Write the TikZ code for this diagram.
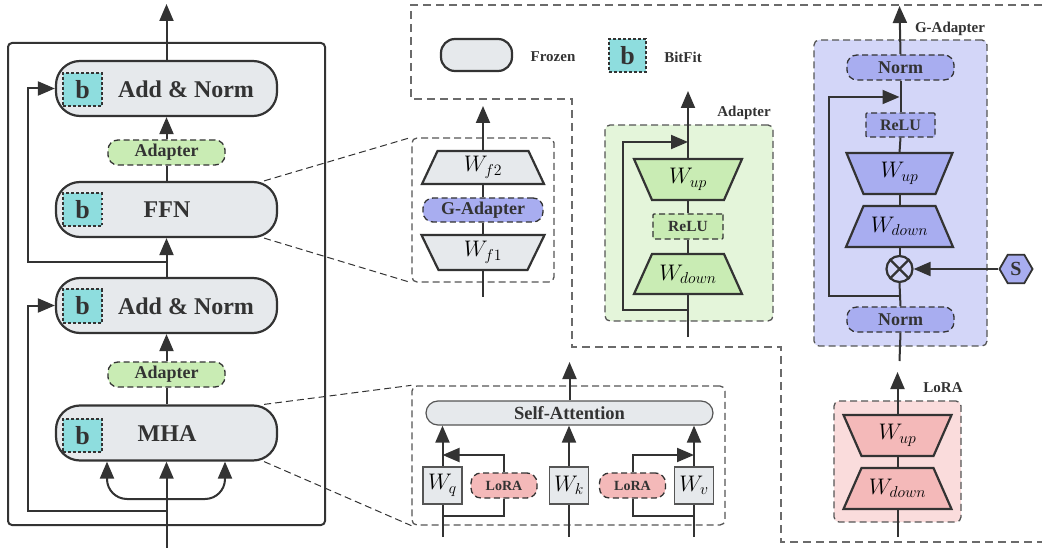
\RequirePackage{fix-cm}
\documentclass[tikz,border=0pt]{standalone}
\usepackage{fontspec}
\setmainfont{Liberation Serif}
\usetikzlibrary{arrows.meta,shapes.geometric,calc}

\definecolor{dk}{HTML}{333333}
\definecolor{dkg}{HTML}{555555}
\definecolor{olg}{HTML}{6B6B6B}
\definecolor{frz}{HTML}{E6E9EC}
\definecolor{cyb}{HTML}{8EDDDE}
\definecolor{grn}{HTML}{C9ECB4}
\definecolor{grnbg}{HTML}{E4F5DA}
\definecolor{lav}{HTML}{A8ADF0}
\definecolor{lavbg}{HTML}{D3D6F8}
\definecolor{pnk}{HTML}{F4B9B9}
\definecolor{pnkbg}{HTML}{FADCDC}

\newcommand{\tsize}[1]{\fontsize{#1}{#1}\selectfont}

% weight matrix drawn as a trapezoid: name, cx, cy, top half width,
% bottom half width, half height, fill, label
\newcommand{\wtrap}[8]{%
  \draw[trapln, fill=#7] (#2-#4,#3-#6) -- (#2+#4,#3-#6) -- (#2+#5,#3+#6) -- (#2-#5,#3+#6) -- cycle;
  \node[wlbl, minimum height=#6*2pt] (#1) at (#2,#3) {#8};}

\begin{document}
\begin{tikzpicture}[x=1pt,y=-1pt,
  ln/.style={draw=dk, line width=2pt},
  arr/.style={draw=dk, line width=2pt, -{Triangle[length=17pt,width=14pt]}},
  trapln/.style={draw=dk, line width=2.2pt, line join=miter},
  wlbl/.style={inner sep=0pt, text=black, font=\tsize{22.5}},
  pill/.style={draw=dk, line width=2.2pt, fill=frz, rounded corners=24pt,
    minimum width=221pt, minimum height=55pt, inner sep=0pt},
  bigtxt/.style={inner sep=0pt, text=dk, font=\bfseries\tsize{24}},
  bbox/.style={draw=dk, line width=2pt, dash pattern=on 2.6pt off 2.4pt, fill=cyb,
    minimum width=39pt, minimum height=33pt, inner sep=0pt, text=dk, font=\bfseries\tsize{26}},
  dpill/.style={draw=dk, line width=1.3pt, dash pattern=on 6pt off 3.5pt, rounded corners=10pt,
    inner sep=0pt, text=dk, font=\bfseries\tsize{18}},
  dbox/.style={draw=dk, line width=1.3pt, dash pattern=on 6pt off 3.5pt, rounded corners=1pt,
    inner sep=0pt, text=dk, font=\bfseries\tsize{15.5}},
  cbox/.style={draw=dkg, line width=1.3pt, dash pattern=on 7pt off 4pt, rounded corners=5pt, inner sep=0pt},
  zl/.style={draw=dk, line width=1pt, dash pattern=on 7pt off 4pt},
  outl/.style={draw=olg, line width=1.6pt, dash pattern=on 8pt off 5pt},
  lbl/.style={inner sep=0pt, text=dk, font=\bfseries\tsize{15}},
  wsq/.style={draw=dkg, line width=1.5pt, fill=frz, minimum width=39pt, minimum height=37pt,
    inner sep=0pt, text=black, font=\tsize{22.5}},
]
\useasboundingbox (0,0) rectangle (1042,548);

% ---------------- transformer layer ----------------
\node[draw=dk, line width=2pt, rounded corners=4pt, minimum width=317pt, minimum height=482pt, inner sep=0pt] (blk) at (166.5,284) {};

\node[pill] (an2) at (166.5,88.5) {};
\node[bbox] (b3) at (82.5,89.5) {b};
\node[bigtxt] (an2t) at (186,89) {Add \& Norm};
\node[dpill, fill=grn, minimum width=117pt, minimum height=25pt] (ad2) at (166.5,152.5) {Adapter};
\node[pill] (ffn) at (166.5,209.5) {};
\node[bbox] (b2) at (82.5,210) {b};
\node[bigtxt] (ffnt) at (167,210) {FFN};
\node[pill] (an1) at (166.5,305.5) {};
\node[bbox] (b1) at (82.5,306) {b};
\node[bigtxt] (an1t) at (186,306) {Add \& Norm};
\node[dpill, fill=grn, minimum width=117pt, minimum height=25pt] (ad1) at (166.5,374.5) {Adapter};
\node[pill] (mha) at (166.5,433) {};
\node[bbox] (b0) at (82.5,435.5) {b};
\node[bigtxt] (mhat) at (167,434) {MHA};

\coordinate (top) at (166.5,4);
\draw[arr] (an2.north) -- (top);
\draw[arr] (ad2.north) -- (an2.south);
\draw[ln] (ffn.north) -- (ad2.south);
\draw[arr] (an1.north) -- (ffn.south);
\coordinate (r2) at (166.5,262);
\draw[arr] (r2) -- (27.5,262) |- (an2.west);
\draw[arr] (ad1.north) -- (an1.south);
\draw[ln] (mha.north) -- (ad1.south);
\coordinate (inp) at (166.5,548);
\draw[arr] (inp) -- (mha.south);
\coordinate (r1) at (166.5,511);
\draw[arr] (r1) -- (27.5,511) |- (an1.west);
\coordinate (fork) at (166.5,499);
\draw[arr, rounded corners=20pt] (fork) -| ([xshift=-59.5pt]mha.south);
\draw[arr, rounded corners=20pt] (fork) -| ([xshift=58.5pt]mha.south);

% ---------------- legend and outline ----------------
\draw[outl] (1042,5) -- (411,5) -- (411,99) -- (572,99) -- (572,347) -- (781,347) -- (781,542) -- (1042,542);
\node[draw=dk, line width=2.2pt, fill=frz, rounded corners=14pt, minimum width=71pt, minimum height=32pt, inner sep=0pt] (legf) at (476.5,55) {};
\node[lbl] (legft) at (553,57) {Frozen};
\node[bbox, minimum width=37pt] (legb) at (627.5,55.5) {b};
\node[lbl] (legbt) at (683,57) {BitFit};

% ---------------- FFN detail ----------------
\node[cbox, minimum width=142pt, minimum height=144pt] (ffnd) at (483,210) {};
\draw[zl] ([xshift=-14pt]ffn.north east) -- (ffnd.north west);
\draw[zl] ([xshift=-14pt]ffn.south east) -- (ffnd.south west);
\wtrap{wf2}{483}{167.5}{45.5}{61}{16.5}{frz}{$W_{f2}$}
\node[dpill, fill=lav, minimum width=120pt, minimum height=24pt] (gad) at (483,210) {G-Adapter};
\wtrap{wf1}{483}{252.5}{61.5}{44.5}{17.5}{frz}{$W_{f1}$}
\coordinate (fin) at (483,297);
\coordinate (fout) at (483,106);
\draw[ln] (fin) -- (wf1.south);
\draw[ln] (wf1.north) -- (gad.south);
\draw[ln] (gad.north) -- (wf2.south);
\draw[arr] (wf2.north) -- (fout);

% ---------------- self-attention detail ----------------
\node[cbox, minimum width=313pt, minimum height=139pt] (sad) at (568.5,455.5) {};
\draw[zl] ([xshift=-14pt]mha.north east) -- (sad.north west);
\draw[zl] ([xshift=-14pt]mha.south east) -- (sad.south west);
\node[draw=dkg, line width=1.2pt, fill=frz, rounded corners=12pt, minimum width=287pt, minimum height=24pt,
  inner sep=0pt, text=dk, font=\bfseries\tsize{18.5}] (sa) at (569.5,413) {Self-Attention};
\node[wsq] (wq) at (442.5,485.5) {$W_q$};
\node[wsq] (wk) at (569,485.5) {$W_k$};
\node[wsq] (wv) at (694,485.5) {$W_v$};
\node[dpill, fill=pnk, minimum width=66pt, minimum height=25pt, font=\bfseries\tsize{14}] (lq) at (504,485.5) {LoRA};
\node[dpill, fill=pnk, minimum width=66pt, minimum height=25pt, font=\bfseries\tsize{14}] (lv) at (632.5,485.5) {LoRA};
\coordinate (qin) at (442.5,537);
\coordinate (kin) at (569,537);
\coordinate (vin) at (694,537);
\coordinate (saout) at (569.5,362);
\draw[ln] (qin) -- (wq.south);
\draw[ln] (kin) -- (wk.south);
\draw[ln] (vin) -- (wv.south);
\draw[arr] (wq.north) -- (wq.north |- sa.south);
\draw[arr] (wk.north) -- (wk.north |- sa.south);
\draw[arr] (wv.north) -- (wv.north |- sa.south);
\draw[arr] (sa.north) -- (saout);
\coordinate (qres) at (442.5,516);
\coordinate (qmrg) at (442.5,455);
\draw[ln] (qres) -| (lq.south);
\draw[arr] (lq.north) |- (qmrg);
\coordinate (vres) at (694,516);
\coordinate (vmrg) at (694,455);
\draw[ln] (vres) -| (lv.south);
\draw[arr] (lv.north) |- (vmrg);

% ---------------- Adapter ----------------
\node[cbox, fill=grnbg, minimum width=168pt, minimum height=196pt] (adb) at (689,223) {};
\node[lbl] (adl) at (744,113) {Adapter};
\wtrap{aup}{688}{179.5}{54}{36}{20.5}{grn}{$W_{up}$}
\node[dbox, fill=grn, minimum width=70pt, minimum height=25pt] (arelu) at (688,226.5) {ReLU};
\wtrap{adn}{688}{274}{36}{54}{20}{grn}{$W_{down}$}
\coordinate (ain) at (688,337);
\coordinate (aout) at (688,91);
\draw[ln] (ain) -- (adn.south);
\draw[ln] (adn.north) -- (arelu.south);
\draw[ln] (arelu.north) -- (aup.south);
\draw[arr] (aup.north) -- (aout);
\coordinate (ares) at (688,310);
\coordinate (amrg) at (688,142);
\draw[arr] (ares) -- (623,310) |- (amrg);

% ---------------- G-Adapter ----------------
\node[cbox, fill=lavbg, minimum width=173pt, minimum height=306pt] (gab) at (900.5,193) {};
\node[lbl] (gal) at (950,29) {G-Adapter};
\node[dpill, fill=lav, minimum width=107pt, minimum height=25pt] (gn2) at (900.5,67.5) {Norm};
\node[dbox, fill=lav, minimum width=69pt, minimum height=24pt, font=\bfseries\tsize{16}] (grelu) at (900.5,125) {ReLU};
\wtrap{gup}{899.5}{173.5}{53}{36}{20.5}{lav}{$W_{up}$}
\wtrap{gdn}{899.5}{226.5}{36}{53.5}{20.5}{lav}{$W_{down}$}
\node[circle, draw=dk, line width=2.2pt, minimum size=26pt, inner sep=0pt] (otm) at (899.5,269) {};
\draw[dk, line width=2.2pt] (otm.north west) -- (otm.south east) (otm.north east) -- (otm.south west);
\node[dpill, fill=lav, minimum width=107pt, minimum height=25pt] (gn1) at (900.5,319.5) {Norm};
\node[regular polygon, regular polygon sides=6, draw=dk, line width=1.8pt, fill=lav, minimum size=33pt,
  inner sep=0pt, text=dk, font=\bfseries\tsize{20}] (sv) at (1016,269) {S};
\coordinate (gin) at (899.5,361);
\coordinate (gout) at (899.5,6);
\draw[ln] (gin) -- (gn1.south);
\draw[ln] (gn1.north) -- (otm.south);
\draw[ln] (otm.north) -- (gdn.south);
\draw[ln] (gdn.north) -- (gup.south);
\draw[ln] (gup.north) -- (grelu.south);
\draw[ln] (grelu.north) -- (gn2.south);
\draw[arr] (gn2.north) -- (gout);
\coordinate (gres) at (899.5,296);
\coordinate (gmrg) at (899.5,97);
\draw[arr] (gres) -- (829,296) |- (gmrg);
\draw[arr] (sv.west) -- (otm.east);

% ---------------- LoRA ----------------
\node[cbox, fill=pnkbg, minimum width=127pt, minimum height=121pt] (lrb) at (897.5,461.5) {};
\node[lbl] (lrl) at (943,388) {LoRA};
\wtrap{lup}{897.5}{435.5}{54}{36}{20.5}{pnk}{$W_{up}$}
\wtrap{ldn}{897.5}{488.5}{36}{54}{20.5}{pnk}{$W_{down}$}
\coordinate (lin) at (897.5,537);
\coordinate (lout) at (897.5,372);
\draw[ln] (lin) -- (ldn.south);
\draw[ln] (ldn.north) -- (lup.south);
\draw[arr] (lup.north) -- (lout);
\end{tikzpicture}
\end{document}
